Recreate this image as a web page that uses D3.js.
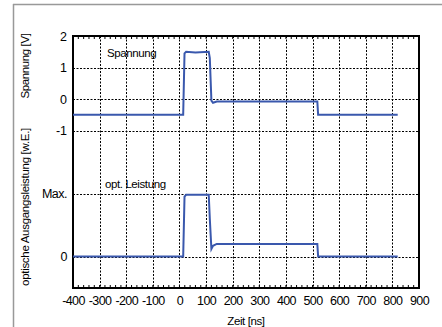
<!DOCTYPE html>
<html><head><meta charset="utf-8">
<script src="https://cdn.jsdelivr.net/npm/d3@7"></script>
<style>html,body{margin:0;padding:0;background:#fff;overflow:hidden}svg{display:block}text{font-family:"Liberation Sans",Arial,sans-serif;fill:#000}</style>
</head><body><svg id="c" width="442" height="327"></svg>
<script>
const xTicks = [-400,-300,-200,-100,0,100,200,300,400,500,600,700,800,900];
const yTickVals = [2,1,0,-1];
const yTickVals2 = [-3,-5];
const yTickLabels2 = ["Max.","0"];
const voltT = [-400,14,19,25,60,110,114,120,126,140,300,518,521,600,820];
const voltV = [-0.5,-0.5,1.45,1.5,1.48,1.5,1.3,-0.05,-0.12,-0.08,-0.08,-0.08,-0.5,-0.5,-0.5];
const optT = [-400,14,19,25,110,114,120,126,140,300,518,521,600,820];
const optV = [0,0,0.95,0.98,0.98,0.6,0.12,0.17,0.2,0.2,0.2,0,0,0];

const svg = d3.select("#c");
const L=73,R=419,T=36,B=288;
const x = d3.scaleLinear().domain([-400,900]).range([L,R]);
const y = d3.scaleLinear().domain([-6,2]).range([B,T]);
const y2 = v => -5 + 2*v;
const fmt = d => String(d);

// frame
svg.append("line").attr("x1",13.5).attr("x2",13.5).attr("y1",4).attr("y2",327).attr("stroke","#999").attr("stroke-width",1.5);
svg.append("line").attr("x1",13).attr("x2",442).attr("y1",4.5).attr("y2",4.5).attr("stroke","#999").attr("stroke-width",1.5);

// grid
const g = svg.append("g");
xTicks.slice(1,-1).forEach(t=>{
  g.append("line").attr("x1",Math.round(x(t))+0.5).attr("x2",Math.round(x(t))+0.5).attr("y1",T).attr("y2",B)
   .attr("stroke","#000").attr("stroke-width",1).attr("stroke-dasharray","2,1.5");
});
[1,0,-1,-3,-5].forEach(v=>{
  g.append("line").attr("y1",Math.round(y(v))+0.5).attr("y2",Math.round(y(v))+0.5).attr("x1",L).attr("x2",R)
   .attr("stroke","#000").attr("stroke-width",1).attr("stroke-dasharray","2,1.5");
});

// axes
const xb = d3.axisBottom(x).tickValues(xTicks).tickFormat(fmt).tickSize(0).tickPadding(8);
const xg = svg.append("g").attr("transform",`translate(0,${B})`).call(xb);
xg.select(".domain").remove();
xg.selectAll("text").attr("font-size",12.5).attr("font-family","Liberation Sans, Arial").attr("letter-spacing",-0.6);

const minor = d3.range(-400,901,20);
minor.forEach(t=>{
  svg.append("line").attr("x1",x(t)).attr("x2",x(t)).attr("y1",T).attr("y2",T+3).attr("stroke","#000").attr("stroke-width",1);
  svg.append("line").attr("x1",x(t)).attr("x2",x(t)).attr("y1",B).attr("y2",B-3).attr("stroke","#000").attr("stroke-width",1);
});

const yl = d3.axisLeft(y).tickValues(yTickVals).tickFormat(fmt).tickSize(0).tickPadding(6);
const yg = svg.append("g").attr("transform",`translate(${L},0)`).call(yl);
yg.select(".domain").remove();
yg.selectAll("text").attr("font-size",12.5).attr("font-family","Liberation Sans, Arial");

const yl2 = d3.axisLeft(y).tickValues(yTickVals2).tickFormat((d,i)=>yTickLabels2[i]).tickSize(0).tickPadding(6);
const yg2 = svg.append("g").attr("transform",`translate(${L},0)`).call(yl2);
yg2.select(".domain").remove();
yg2.selectAll("text").attr("font-size",12.5).attr("font-family","Liberation Sans, Arial").attr("letter-spacing",-0.5);

svg.append("rect").attr("x",L).attr("y",T).attr("width",R-L).attr("height",B-T).attr("fill","none").attr("stroke","#000").attr("stroke-width",2);

// lines
const line = d3.line().x(d=>x(d[0])).y(d=>y(d[1]));
svg.append("path").datum(voltT.map((t,i)=>[t,voltV[i]])).attr("d",line).attr("fill","none").attr("stroke","#3a58ad").attr("stroke-width",2);
svg.append("path").datum(optT.map((t,i)=>[t,y2(optV[i])])).attr("d",line).attr("fill","none").attr("stroke","#3a58ad").attr("stroke-width",2);

// labels
svg.append("text").attr("x",107).attr("y",57).attr("font-size",11.5).attr("letter-spacing",-0.4).text("Spannung");
svg.append("text").attr("x",105).attr("y",188).attr("font-size",11.5).attr("letter-spacing",-0.4).text("opt. Leistung");
svg.append("text").attr("x",246).attr("y",325).attr("text-anchor","middle").attr("font-size",11.5).attr("letter-spacing",-0.4).text("Zeit [ns]");
svg.append("text").attr("transform","translate(29,66) rotate(-90)").attr("text-anchor","middle").attr("font-size",11.5).attr("letter-spacing",-0.4).text("Spannung [V]");
svg.append("text").attr("transform","translate(29,207) rotate(-90)").attr("text-anchor","middle").attr("font-size",11.5).attr("letter-spacing",-0.3).text("optische Ausgangsleistung [w.E.]");
</script></body></html>
